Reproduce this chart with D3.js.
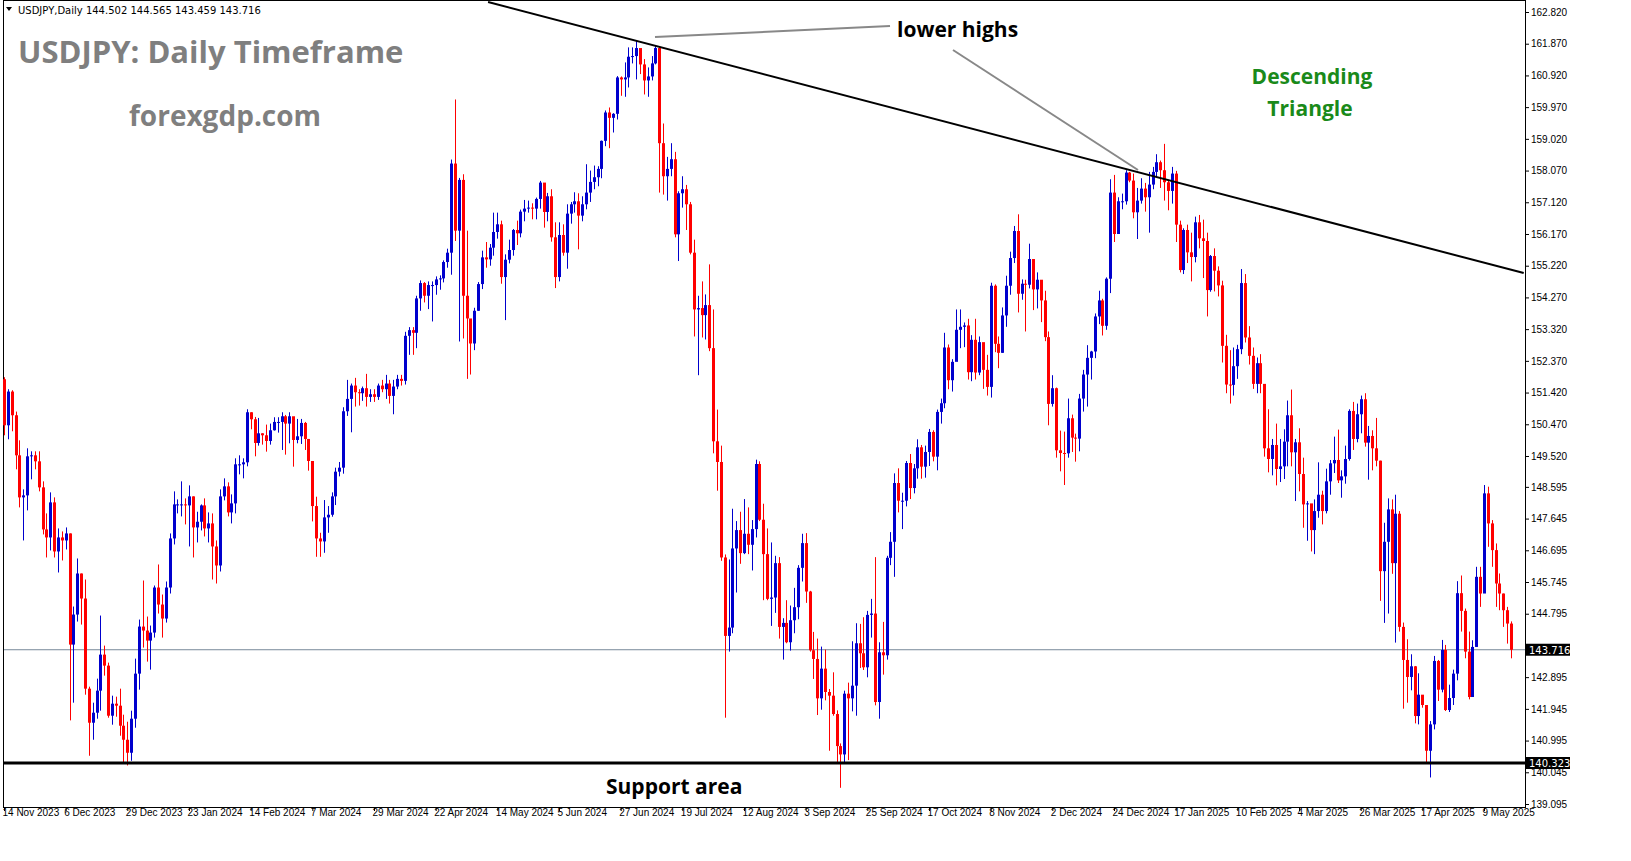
<!DOCTYPE html>
<html>
<head>
<meta charset="utf-8">
<script src="https://cdn.jsdelivr.net/npm/d3@7/dist/d3.min.js"></script>
<style>
  body { margin: 0; background: #fff; }
  svg { display: block; }
</style>
</head>
<body>
<div id="chart"></div>
<script>
// USDJPY daily candles, open = previous close
const firstOpen = 151.82;
const closes = [150.44,151.45,150.74,149.54,148.28,148.34,149.51,149.54,149.36,148.58,147.32,147.08,148.13,146.66,147.08,146.99,147.2,143.87,144.77,146.0,145.25,142.55,141.53,141.83,142.49,143.57,143.24,141.74,142.1,142.04,141.44,141.02,140.63,141.65,143.0,144.41,144.29,143.99,144.23,145.58,145.07,144.65,145.58,147.05,148.07,148.07,148.07,148.04,148.31,147.38,147.55,148.04,147.35,147.5,146.81,146.24,148.31,148.61,147.83,148.1,149.27,149.27,149.33,150.83,150.62,
149.91,150.2,150.14,149.97,150.29,150.54,150.54,150.71,150.49,150.71,150.0,150.11,150.51,150.03,149.37,148.02,147.05,146.96,147.68,147.76,148.31,149.05,149.17,150.86,151.23,151.63,151.43,151.4,151.55,151.29,151.37,151.29,151.63,151.52,151.69,151.32,151.6,151.83,151.77,153.12,153.29,153.21,154.24,154.7,154.32,154.64,154.64,154.81,154.84,155.33,155.61,158.28,156.27,157.79,154.32,153.64,152.89,153.87,154.67,155.47,155.41,155.76,
156.23,156.46,154.88,155.4,155.69,156.29,156.19,156.84,156.93,156.96,156.93,157.22,157.71,156.83,157.3,156.07,154.88,156.14,155.61,156.78,157.06,157.15,156.72,157.06,157.41,157.73,157.87,158.12,158.96,159.81,159.65,159.77,160.86,160.8,160.86,161.48,161.5,161.74,161.25,160.77,160.89,161.28,161.74,158.89,157.9,158.12,158.41,156.16,157.39,157.51,157.06,155.61,153.91,153.95,153.74,154.04,152.75,149.96,149.34,146.48,144.13,
144.38,146.75,147.3,146.61,147.19,146.86,147.33,149.28,147.61,146.58,145.24,145.28,146.31,144.4,144.52,143.94,144.6,144.99,146.17,146.91,145.46,143.7,143.44,142.26,143.15,142.45,142.34,141.79,140.83,140.58,142.4,142.26,142.64,143.91,143.61,143.19,144.76,144.8,142.15,143.64,143.55,146.47,146.95,148.71,148.18,148.18,149.31,148.56,149.15,149.78,149.2,149.64,150.24,149.5,150.84,151.1,152.77,151.79,152.34,153.3,153.39,153.43,152.03,153.0,
152.02,152.93,152.1,151.59,154.62,152.88,152.61,153.73,154.62,155.45,156.26,154.38,154.68,154.65,155.42,154.51,154.8,154.18,153.08,151.08,151.55,149.69,149.61,149.6,150.65,150.07,150.04,151.24,151.96,152.46,152.65,153.7,154.18,153.42,154.83,157.41,156.17,157.15,157.15,158.01,157.77,156.82,157.17,157.53,157.27,157.65,158.03,158.32,158.08,157.72,157.46,157.98,156.45,155.09,156.29,155.62,155.48,156.52,156.04,155.96,154.49,155.51,155.07,154.63,
152.82,151.66,151.65,152.21,152.72,154.7,153.07,152.52,151.68,152.3,151.68,149.75,149.43,149.85,149.13,149.21,149.95,150.74,149.63,149.93,148.98,148.07,148.1,147.3,147.87,148.36,147.87,148.76,149.3,149.4,148.79,148.91,149.43,150.87,150.03,150.77,151.22,149.92,150.12,149.75,149.38,146.07,146.95,147.92,146.31,147.79,144.4,143.41,142.9,143.22,141.73,142.37,142.06,140.69,141.48,143.38,142.52,143.71,141.91,142.27,143.0,145.41,144.88,143.66,142.3,
143.8,145.9,145.4,148.4,147.5,146.7,145.7,145.4,144.9,144.5,143.716];

const highs = [151.88,151.52,151.49,150.85,149.99,148.52,149.75,149.66,149.66,149.66,148.76,147.8,148.43,148.28,147.35,147.26,147.38,147.2,145.01,146.45,146.0,145.82,142.61,142.13,142.85,144.74,143.84,143.33,142.34,142.31,142.55,141.77,141.56,141.89,143.45,144.62,145.79,144.71,144.44,145.64,146.27,145.37,145.76,147.2,148.46,148.22,148.76,148.25,148.64,148.31,147.85,148.07,148.25,147.83,147.8,146.99,148.52,148.85,148.73,148.37,149.45,149.54,149.45,150.92,150.83,
150.69,150.66,150.2,150.46,150.49,150.68,150.68,150.83,150.75,150.83,150.66,150.63,150.63,150.54,150.03,149.37,148.3,147.22,148.2,148.02,148.43,149.17,149.34,150.98,151.8,151.69,151.86,151.52,151.6,151.98,151.52,151.52,151.69,151.8,151.95,151.8,151.8,151.95,151.95,153.24,153.38,153.38,154.32,154.78,154.73,154.75,154.75,154.9,154.93,155.38,155.73,158.4,160.2,157.85,157.96,156.27,153.52,153.96,154.73,155.67,155.93,155.87,
156.81,156.81,156.57,155.56,156.0,156.32,156.57,156.9,157.19,157.17,157.09,157.26,157.76,157.68,157.4,157.51,156.52,156.52,156.46,157.06,157.13,157.42,157.39,157.3,158.26,158.07,158.22,158.2,158.97,159.87,159.96,159.79,160.9,160.89,161.31,161.76,161.76,161.95,161.7,161.41,161.16,161.5,161.83,161.76,159.48,158.48,158.89,158.63,157.45,157.9,157.64,157.13,156.0,154.32,154.75,154.36,155.26,153.91,150.91,149.83,146.57,
146.42,147.94,147.57,147.85,148.23,147.98,147.6,149.41,149.36,148.09,147.35,146.93,146.53,146.49,144.66,145.2,145.04,145.57,146.25,147.19,147.21,145.48,144.25,144.05,143.81,143.72,142.54,143.04,141.9,140.91,142.49,142.73,143.97,144.51,144.49,144.69,144.88,145.24,146.49,143.94,144.55,146.53,147.24,149.0,149.15,148.42,149.37,149.58,149.28,150.02,149.85,149.83,150.33,150.29,150.91,151.24,153.21,152.86,152.42,153.91,153.91,153.52,153.63,153.14,
153.63,153.1,152.55,152.55,154.71,154.66,153.1,153.97,154.92,155.64,156.41,156.76,154.81,154.8,155.88,155.4,155.02,154.71,154.47,153.25,151.94,151.57,150.28,150.25,151.24,150.76,150.19,151.38,152.1,152.84,152.67,153.79,154.47,154.23,154.87,157.81,157.94,157.27,157.38,158.08,158.03,157.98,157.55,157.84,157.7,158.03,158.18,158.56,158.37,158.87,157.79,158.18,158.06,156.57,156.34,156.45,156.21,156.69,156.74,156.6,156.21,155.54,155.74,155.2,
154.77,153.15,152.69,152.77,152.85,155.12,154.97,153.41,152.77,152.47,152.57,151.66,150.92,150.03,150.49,150.03,150.32,151.18,151.51,150.03,150.35,149.47,148.17,148.04,148.22,149.33,148.48,149.14,149.4,150.1,150.31,149.09,149.83,150.92,151.14,151.09,151.33,151.4,150.42,150.29,150.66,149.38,147.52,148.25,148.22,148.36,147.87,144.53,144.03,143.58,143.23,143.01,142.35,142.03,141.58,143.53,143.41,144.01,143.86,142.67,143.12,145.77,145.94,144.95,144.26,
144.0,146.2,146.2,148.65,148.6,147.6,146.9,146.0,145.4,145.0,144.565];

const lows = [150.14,150.02,150.26,149.12,147.98,146.99,147.89,148.82,149.12,148.46,147.17,146.48,146.69,146.48,146.03,146.39,146.72,141.6,142.13,144.56,144.47,142.37,140.54,141.02,141.65,141.89,142.94,141.68,141.47,141.71,141.14,140.33,140.25,140.39,141.38,142.52,143.78,143.36,143.12,144.08,144.8,144.08,144.53,145.4,146.87,147.8,147.71,147.47,146.81,146.48,146.93,147.29,147.11,146.93,145.82,145.7,146.06,148.19,147.71,147.5,147.8,148.97,148.85,149.21,150.32,
149.51,149.83,149.86,149.65,149.86,150.28,150.22,149.7,149.56,149.9,149.2,149.9,149.88,149.7,149.08,147.56,146.5,146.5,146.62,147.22,147.7,148.05,148.91,148.99,150.72,150.23,151.0,151.03,151.17,151.0,151.14,151.14,151.2,151.43,151.23,151.09,150.77,151.52,151.63,151.66,152.55,152.55,152.75,153.87,154.12,153.92,153.55,154.35,154.5,154.72,155.16,154.95,155.96,152.95,153.04,151.83,151.96,152.69,153.87,154.52,155.16,155.22,
155.52,156.03,154.68,153.59,155.29,155.52,155.84,156.07,156.55,156.81,156.61,156.61,156.93,156.36,156.55,155.94,154.55,154.75,155.52,155.13,156.48,156.81,155.71,156.55,156.91,157.13,157.51,157.6,157.84,158.8,158.74,159.21,159.6,160.31,160.28,160.56,161.28,160.8,160.96,160.35,160.28,160.77,161.25,157.41,157.35,157.17,157.9,156.07,155.36,156.96,156.29,155.56,153.1,151.94,153.07,153.01,152.66,149.6,148.48,146.38,141.68,
143.66,144.21,145.43,146.29,146.58,146.58,146.09,147.08,147.57,145.2,145.2,144.43,144.82,144.05,143.42,143.91,143.69,144.21,144.63,145.76,145.12,143.66,142.84,141.76,141.92,142.2,140.69,141.74,140.3,139.58,140.3,140.41,141.87,141.74,143.17,143.11,142.89,144.08,142.05,141.65,142.97,143.42,146.25,145.9,147.83,147.33,148.01,148.23,148.4,148.84,148.84,148.87,149.22,149.36,149.09,150.49,150.95,151.52,151.45,152.4,152.75,152.78,151.81,151.76,
151.81,151.94,151.53,151.33,151.27,152.63,152.15,152.61,153.39,154.35,155.3,153.82,154.2,153.25,154.54,153.89,153.94,153.53,152.96,150.44,151.0,149.47,149.06,148.65,149.47,149.64,149.35,149.66,150.85,151.0,151.81,152.45,153.47,153.13,153.3,154.4,155.93,156.26,156.91,157.05,157.72,156.64,156.02,157.08,156.84,156.21,157.51,157.89,157.55,157.17,156.88,157.08,155.93,155.02,154.97,155.3,154.75,155.32,155.74,154.85,153.7,154.44,154.45,154.3,
152.32,151.4,151.09,151.33,151.83,152.57,152.92,152.26,151.53,151.4,151.4,149.5,149.03,148.94,148.64,148.74,148.83,149.21,149.21,148.17,148.46,147.37,146.98,146.66,146.58,147.67,147.47,147.8,148.36,149.01,148.71,148.27,148.69,149.38,149.7,149.93,150.2,149.8,148.81,149.09,149.21,145.18,144.52,144.8,145.99,143.93,144.26,141.95,142.13,142.5,141.51,141.48,141.98,140.32,139.89,141.33,142.18,142.44,141.88,141.85,142.06,142.8,144.26,143.46,142.23,
142.4,143.8,145.0,145.5,146.8,146.2,145.0,144.9,144.4,143.9,143.459];

const dateLabels = ["14 Nov 2023","6 Dec 2023","29 Dec 2023","23 Jan 2024","14 Feb 2024","7 Mar 2024","29 Mar 2024","22 Apr 2024","14 May 2024","5 Jun 2024","27 Jun 2024","19 Jul 2024","12 Aug 2024","3 Sep 2024","25 Sep 2024","17 Oct 2024","8 Nov 2024","2 Dec 2024","24 Dec 2024","17 Jan 2025","10 Feb 2025","4 Mar 2025","26 Mar 2025","17 Apr 2025","9 May 2025"];
const labelStep = 16;   // bars between date labels
const priceTicks = [162.820,161.870,160.920,159.970,159.020,158.070,157.120,156.170,155.220,154.270,153.320,152.370,151.420,150.470,149.520,148.595,147.645,146.695,145.745,144.795,143.845,142.895,141.945,140.995,140.045,139.095];

const lastPrice = 143.716;
const supportPrice = 140.323;
// descending trendline: [bar index, price]
const trendPoints = [[125.6, 163.12], [394.3, 155.0]];

const W = 1631, H = 861;
const plotRight = 1525, plotBottom = 807;
const N = closes.length;

const svg = d3.select("#chart").append("svg").attr("width", W).attr("height", H)
  .style("font-family", "Tahoma, 'DejaVu Sans', sans-serif");

const x = d3.scaleLinear().domain([0, N - 1]).range([4, 1511]);
const y = d3.scaleLinear().domain([139.095, 162.820]).range([804, 12]);

const candles = closes.map((c, i) => ({
  o: i === 0 ? firstOpen : closes[i - 1], c, h: highs[i], l: lows[i], i
}));

// frame
svg.append("rect").attr("x", 3.5).attr("y", 0.5).attr("width", plotRight - 3).attr("height", plotBottom)
  .attr("fill", "none").attr("stroke", "#000");

// right axis (the tick hidden by the last-price label gets no text)
const yAxis = d3.axisRight(y).tickValues(priceTicks).tickSize(4)
  .tickFormat(d => Math.abs(d - lastPrice) < 0.3 ? "" : d3.format(".3f")(d));
const ya = svg.append("g").attr("transform", `translate(${plotRight},0)`).call(yAxis);
ya.select(".domain").remove();
ya.selectAll("text").attr("font-size", 10).attr("fill", "#000").attr("x", 6);

// bottom axis
const xAxis = d3.axisBottom(x).tickValues(dateLabels.map((d, k) => k * labelStep))
  .tickFormat((d, k) => dateLabels[k]).tickSize(4);
const xa = svg.append("g").attr("transform", `translate(0,${plotBottom})`).call(xAxis);
xa.select(".domain").remove();
xa.selectAll("text").attr("font-size", 10).attr("fill", "#000").attr("text-anchor", "start").attr("dx", -2).attr("dy", 2);

// last price line
svg.append("line").attr("x1", 4).attr("x2", plotRight).attr("y1", y(lastPrice)).attr("y2", y(lastPrice))
  .attr("stroke", "#778899").attr("stroke-width", 1);

// candles
const g = svg.append("g");
g.selectAll("line.wick").data(candles).join("line")
  .attr("x1", d => Math.round(x(d.i)) + 0.5).attr("x2", d => Math.round(x(d.i)) + 0.5)
  .attr("y1", d => y(d.h)).attr("y2", d => y(d.l))
  .attr("stroke", d => d.c >= d.o ? "#0000cd" : "#ff0000").attr("stroke-width", 1);
g.selectAll("rect.body").data(candles).join("rect")
  .attr("x", d => Math.round(x(d.i)) - 1).attr("width", 3)
  .attr("y", d => y(Math.max(d.o, d.c)))
  .attr("height", d => Math.max(1, Math.abs(y(d.o) - y(d.c))))
  .attr("fill", d => d.c >= d.o ? "#0000cd" : "#ff0000");

// support line
svg.append("line").attr("x1", 4).attr("x2", plotRight).attr("y1", y(supportPrice)).attr("y2", y(supportPrice))
  .attr("stroke", "#000").attr("stroke-width", 3);

// trendline
svg.append("line")
  .attr("x1", x(trendPoints[0][0])).attr("y1", y(trendPoints[0][1]))
  .attr("x2", x(trendPoints[1][0])).attr("y2", y(trendPoints[1][1]))
  .attr("stroke", "#000").attr("stroke-width", 2);

// price labels on axis
[[lastPrice, "143.716"], [supportPrice, "140.323"]].forEach(([p, t]) => {
  svg.append("rect").attr("x", plotRight + 1).attr("y", y(p) - 6).attr("width", 44).attr("height", 12).attr("fill", "#000");
  svg.append("text").attr("x", plotRight + 4).attr("y", y(p) + 4).attr("font-size", 10).attr("fill", "#fff").text(t);
});

// annotations
svg.append("line").attr("x1", 655).attr("y1", 37).attr("x2", 890).attr("y2", 26).attr("stroke", "#888").attr("stroke-width", 2);
svg.append("line").attr("x1", 953).attr("y1", 50).attr("x2", 1138).attr("y2", 170).attr("stroke", "#888").attr("stroke-width", 2);

const txt = (t, xx, yy, size, color, anchor = "start") =>
  svg.append("text").attr("x", xx).attr("y", yy).attr("font-size", size).attr("font-weight", "bold")
    .attr("fill", color).attr("text-anchor", anchor).style("font-family", "'Open Sans', 'DejaVu Sans', sans-serif").text(t);

txt("USDJPY: Daily Timeframe", 18, 63, 31, "#7f7f7f");
txt("forexgdp.com", 129, 126, 28, "#7f7f7f");
txt("lower highs", 897, 37, 21, "#000");
txt("Descending", 1312, 84, 21, "#1a8a1a", "middle");
txt("Triangle", 1310, 116, 21, "#1a8a1a", "middle");
txt("Support area", 606, 794, 21, "#000");

// top-left header
svg.append("path").attr("d", "M6,7 L12,7 L9,11 Z").attr("fill", "#000");
svg.append("text").attr("x", 18).attr("y", 14).attr("font-size", 10).attr("fill", "#000")
  .text("USDJPY,Daily  144.502 144.565 143.459 143.716");
</script>
</body>
</html>
